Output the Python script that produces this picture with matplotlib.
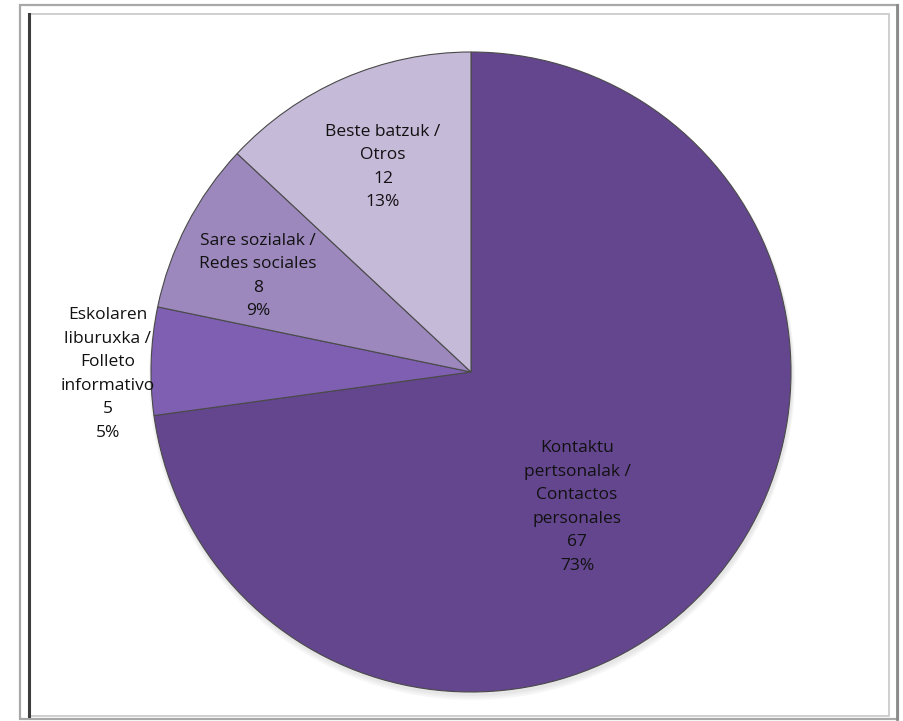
import matplotlib
matplotlib.use("Agg")
import matplotlib.pyplot as plt
from matplotlib.patches import Rectangle, Ellipse

categories = ["Kontaktu\npertsonalak /\nContactos\npersonales",
              "Eskolaren\nliburuxka /\nFolleto\ninformativo",
              "Sare sozialak /\nRedes sociales",
              "Beste batzuk /\nOtros"]
values = [67, 5, 8, 12]
colors = ["#64468F", "#7F5FB1", "#9C88BD", "#C6BAD9"]

# layout (pixels, y from top)
W, H = 904, 721
cx, cy, R = 471, 372, 320
label_pos = [(577, 507), (108, 374), (258, 276), (383, 167)]

fig = plt.figure(figsize=(W / 100, H / 100), dpi=100)
ax = fig.add_axes([0, 0, 1, 1])
ax.set_xlim(0, W)
ax.set_ylim(0, H)
ax.set_aspect("equal")
ax.axis("off")

# frame
ax.add_patch(Rectangle((20, H - 719), 878, 714, fill=False, ec="#A8A8A8", lw=1.6))
ax.add_patch(Rectangle((29, H - 716), 860, 702, fill=False, ec="#CFCFCF", lw=1.4))
ax.plot([29.5, 29.5], [H - 716, H - 14], color="#3C3C3C", lw=2.2)
ax.plot([897, 897], [H - 719, H - 5], color="#8A8A8A", lw=2)

# soft shadow
for i, a in enumerate([0.05, 0.05, 0.05]):
    ax.add_patch(Ellipse((cx + 1, H - cy - 3 - i), 2 * R + 2 + 2 * i, 2 * R + 2 + 2 * i,
                         color="#606060", alpha=a, lw=0, zorder=1))

total = sum(values)
wedges, _ = ax.pie(values, colors=colors, startangle=90, counterclock=False,
                   center=(cx, H - cy), radius=R,
                   wedgeprops=dict(edgecolor="#4A4A4A", linewidth=0.8, zorder=2))
for w in wedges:
    w.set_zorder(2)
ax.set_xlim(0, W)
ax.set_ylim(0, H)

for cat, v, (lx, ly) in zip(categories, values, label_pos):
    txt = f"{cat}\n{v}\n{round(100 * v / total)}%"
    ax.text(lx, H - ly, txt, ha="center", va="center", fontsize=12.5,
            family="Open Sans", color="#111111", linespacing=1.62, zorder=5)

fig.savefig("out.png", dpi=100)
